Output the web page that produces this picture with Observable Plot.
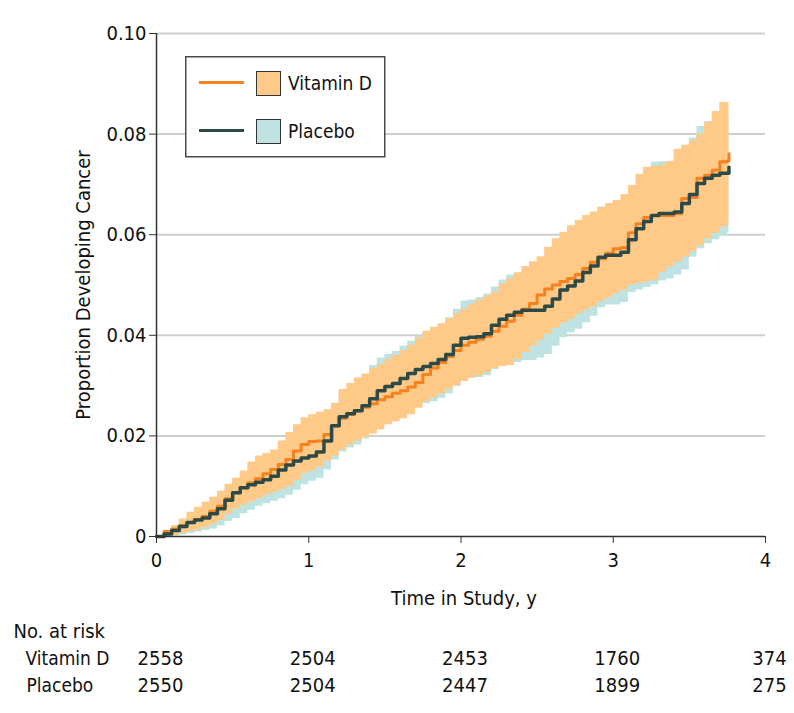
<!DOCTYPE html>
<html><head><meta charset="utf-8">
<script src="https://cdn.jsdelivr.net/npm/d3@7"></script>
<script src="https://cdn.jsdelivr.net/npm/@observablehq/plot@0.6"></script>
<style>
body{margin:0;background:#fff;}
#wrap{position:relative;width:794px;height:713px;}
#chart svg{display:block;}
.legend{position:absolute;left:185px;top:56px;}
</style>
</head><body>
<div id="wrap"><div id="chart"></div>
<svg class="legend" width="202" height="102">
  <rect x="0.75" y="0.75" width="199" height="100" fill="#fff" stroke="#4a4a4a" stroke-width="1.5"/>
  <line x1="14" x2="59" y1="26.5" y2="26.5" stroke="#F5821F" stroke-width="3"/>
  <rect x="71.5" y="15.5" width="24" height="24" fill="#FFC987" stroke="#333" stroke-width="1"/>
  <text x="103" y="27" dy="0.35em" font-family="DejaVu Sans Condensed" font-size="19" fill="#111">Vitamin D</text>
  <line x1="14" x2="59" y1="74.5" y2="74.5" stroke="#2D4A47" stroke-width="3"/>
  <rect x="71.5" y="63.5" width="24" height="24" fill="#BFE3E2" stroke="#333" stroke-width="1"/>
  <text x="103" y="75" dy="0.35em" font-family="DejaVu Sans Condensed" font-size="19" fill="#111">Placebo</text>
</svg>
</div>
<script>
const T = [0,0.05,0.1,0.15,0.2,0.25,0.3,0.35,0.4,0.45,
0.5,0.55,0.6,0.65,0.7,0.75,0.8,0.85,0.9,0.95,
1.0,1.05,1.1,1.15,1.2,1.25,1.3,1.35,1.4,1.45,
1.5,1.55,1.6,1.65,1.7,1.75,1.8,1.85,1.9,1.95,
2.0,2.05,2.1,2.15,2.2,2.25,2.3,2.35,2.4,2.45,
2.5,2.55,2.6,2.65,2.7,2.75,2.8,2.85,2.9,2.95,
3.0,3.05,3.1,3.15,3.2,3.25,3.3,3.35,3.4,3.45,
3.5,3.55,3.6,3.65,3.7,3.75,3.76];

const vitD = [0,0.001,0.0015,0.0022,0.0028,0.0034,0.004,0.005,0.006,0.0075,
0.0087,0.0097,0.0107,0.0115,0.0125,0.0133,0.0143,0.0153,0.017,0.0183,
0.0189,0.019,0.0203,0.022,0.0235,0.0243,0.025,0.0257,0.0264,0.0272,
0.0278,0.0285,0.029,0.0297,0.0306,0.0322,0.0335,0.0346,0.0358,0.037,
0.038,0.0386,0.0392,0.0398,0.0408,0.0418,0.0428,0.044,0.0452,0.0463,
0.048,0.0492,0.05,0.0507,0.0513,0.0521,0.0533,0.0545,0.0552,0.0563,
0.0572,0.0574,0.0604,0.0622,0.0634,0.0638,0.0638,0.0638,0.0642,0.0672,
0.0674,0.0712,0.0718,0.0728,0.0745,0.0747,0.0761];

const placebo = [0,0.0005,0.0012,0.002,0.0028,0.0033,0.0037,0.0045,0.0055,0.0072,
0.0087,0.0097,0.0103,0.0108,0.0113,0.012,0.0132,0.0142,0.015,0.0156,
0.016,0.0168,0.019,0.022,0.0238,0.0244,0.025,0.026,0.0274,0.029,
0.0298,0.0304,0.0314,0.0324,0.0332,0.0338,0.0344,0.0352,0.0362,0.038,
0.0394,0.0396,0.0397,0.0403,0.042,0.0432,0.044,0.0446,0.045,0.045,
0.045,0.0458,0.0472,0.049,0.0498,0.0508,0.0525,0.0538,0.0555,0.0559,
0.0559,0.0565,0.059,0.0612,0.0626,0.0638,0.0642,0.0642,0.0645,0.0662,
0.068,0.0702,0.0712,0.0718,0.0722,0.0722,0.0734];

const vitDLo = [0,0,0.0002,0.0006,0.001,0.0013,0.0018,0.0025,0.0032,0.0044,
0.0054,0.0062,0.0069,0.0075,0.0082,0.0087,0.0093,0.01,0.0112,0.0125,
0.013,0.0138,0.015,0.016,0.0172,0.0182,0.019,0.0197,0.0204,0.0212,
0.0222,0.0228,0.0234,0.0242,0.0255,0.0268,0.0276,0.0284,0.0292,0.03,
0.0308,0.0315,0.032,0.0326,0.0334,0.0338,0.034,0.0352,0.0366,0.0378,
0.039,0.0402,0.0414,0.0424,0.0432,0.0442,0.045,0.0457,0.0467,0.0475,
0.0483,0.049,0.05,0.0503,0.0506,0.051,0.0525,0.0535,0.0545,0.0555,
0.0566,0.0578,0.0592,0.0603,0.0615,0.0622,0.0622];

const vitDHi = [0,0.0012,0.0022,0.0035,0.0048,0.0058,0.0068,0.0078,0.009,0.0104,
0.0116,0.013,0.0148,0.016,0.0165,0.0172,0.019,0.0207,0.0222,0.0236,
0.0242,0.0247,0.0252,0.0265,0.0292,0.0304,0.0315,0.0323,0.0334,0.0342,
0.0352,0.036,0.037,0.038,0.0395,0.0408,0.0416,0.0423,0.0433,0.0443,
0.0452,0.0462,0.047,0.0478,0.0486,0.0502,0.0512,0.0524,0.0537,0.0546,
0.0556,0.0575,0.0592,0.0605,0.0618,0.0628,0.0638,0.0645,0.0654,0.0662,
0.0668,0.068,0.0698,0.072,0.0734,0.0736,0.0738,0.0745,0.077,0.0778,
0.0787,0.08,0.0823,0.0845,0.0863,0.0863,0.0863];

const placeboLo = [0,0,0.0001,0.0003,0.0006,0.0009,0.0012,0.0015,0.0021,0.003,
0.0036,0.0045,0.0052,0.006,0.0065,0.007,0.0075,0.0082,0.0092,0.0103,
0.011,0.0116,0.0132,0.0152,0.0168,0.0176,0.0182,0.0194,0.021,0.0222,
0.0228,0.0234,0.0242,0.0252,0.0258,0.0264,0.0268,0.0275,0.0284,0.0298,
0.0312,0.0315,0.0316,0.032,0.0332,0.0342,0.0346,0.0346,0.035,0.035,
0.0355,0.0362,0.0378,0.0395,0.0405,0.0412,0.0425,0.0438,0.0455,0.046,
0.046,0.0465,0.0485,0.049,0.0495,0.05,0.0508,0.0512,0.052,0.053,
0.0555,0.0572,0.0582,0.059,0.0598,0.0604,0.0604];

const placeboHi = [0,0.0008,0.0016,0.0026,0.0036,0.0044,0.0052,0.0062,0.0074,0.0092,
0.0108,0.012,0.0128,0.0134,0.014,0.0148,0.0162,0.0174,0.0184,0.019,
0.0196,0.0205,0.0232,0.0265,0.0285,0.0295,0.0305,0.0322,0.034,0.0355,
0.0362,0.0368,0.0378,0.0388,0.0398,0.0405,0.0412,0.0422,0.0435,0.0452,
0.0468,0.047,0.0475,0.0482,0.0496,0.051,0.052,0.0524,0.0528,0.0528,
0.0532,0.0548,0.0565,0.0585,0.0595,0.0605,0.0622,0.0638,0.0655,0.0658,
0.0658,0.0665,0.069,0.0715,0.073,0.0744,0.0745,0.0745,0.075,0.077,
0.0792,0.0815,0.0825,0.0832,0.0836,0.0836,0.0836];

const xTicks = [0,1,2,3,4];
const yTicks = [0,0.02,0.04,0.06,0.08,0.10];
const riskTimes = [0,1,2,3,4];
const riskVitD = [2558,2504,2453,1760,374];
const riskPlacebo = [2550,2504,2447,1899,275];

const rows = T.map((t,i)=>({t, vd:vitD[i], pl:placebo[i], vdLo:vitDLo[i], vdHi:vitDHi[i], plLo:placeboLo[i], plHi:placeboHi[i]}));
const riskRows = riskTimes.map((t,i)=>({t, vd:String(riskVitD[i]), pl:String(riskPlacebo[i])}));

const ORANGE_FILL="#FFC987", BLUE_FILL="#BFE3E2", ORANGE="#F5821F", DARK="#2D4A47";
const FONT = "DejaVu Sans Condensed";

const chart = Plot.plot({
  width:794, height:713,
  marginLeft:156, marginRight:29, marginTop:33, marginBottom:177,
  style:{fontFamily:FONT, fontSize:"20px", color:"#111", background:"#fff"},
  x:{domain:[0,4]},
  y:{domain:[0,0.1]},
  marks:[
    Plot.gridY(yTicks.filter(d=>d>0), {stroke:"#cfcfcf", strokeOpacity:1, strokeWidth:2}),
    Plot.areaY(rows, {x:"t", y1:"plLo", y2:"plHi", fill:BLUE_FILL, curve:"step-after"}),
    Plot.areaY(rows, {x:"t", y1:"vdLo", y2:"vdHi", fill:ORANGE_FILL, curve:"step-after"}),
    Plot.lineY(rows, {x:"t", y:"vd", stroke:ORANGE, strokeWidth:3, curve:"step-after"}),
    Plot.lineY(rows, {x:"t", y:"pl", stroke:DARK, strokeWidth:3.5, curve:"step-after"}),
    Plot.ruleX([0], {stroke:"#333", strokeWidth:1.5}),
    Plot.ruleY([0], {stroke:"#333", strokeWidth:1.5}),
    Plot.axisX({ticks:xTicks, tickSize:7, tickPadding:9, label:null, stroke:"#333", fontSize:20, tickFormat:d=>String(d)}),
    Plot.axisY({ticks:yTicks, tickSize:7, tickPadding:3, label:null, stroke:"#333", fontSize:20, tickFormat:d=>d===0?"0":d.toFixed(2)}),
    Plot.text(["Proportion Developing Cancer"], {frameAnchor:"left", dx:-73, rotate:-90, textAnchor:"middle", lineAnchor:"middle", fontSize:20, fill:"#111"}),
    Plot.text(["Time in Study, y"], {frameAnchor:"bottom", dy:62, dx:3, textAnchor:"middle", lineAnchor:"middle", fontSize:20, fill:"#111"}),
    Plot.text(["No. at risk"], {frameAnchor:"bottom-left", dx:-143, dy:95, textAnchor:"start", lineAnchor:"middle", fontSize:20, fill:"#111"}),
    Plot.text(["Vitamin D"], {frameAnchor:"bottom-left", dx:-131, dy:122, textAnchor:"start", lineAnchor:"middle", fontSize:19, fill:"#111"}),
    Plot.text(["Placebo"], {frameAnchor:"bottom-left", dx:-130, dy:149, textAnchor:"start", lineAnchor:"middle", fontSize:19, fill:"#111"}),
    Plot.text(riskRows, {x:"t", text:"vd", frameAnchor:"bottom", dy:122, dx:4, textAnchor:"middle", lineAnchor:"middle", fontSize:20, fill:"#111"}),
    Plot.text(riskRows, {x:"t", text:"pl", frameAnchor:"bottom", dy:149, dx:4, textAnchor:"middle", lineAnchor:"middle", fontSize:20, fill:"#111"})
  ]
});
document.getElementById("chart").appendChild(chart);
</script>
</body></html>
